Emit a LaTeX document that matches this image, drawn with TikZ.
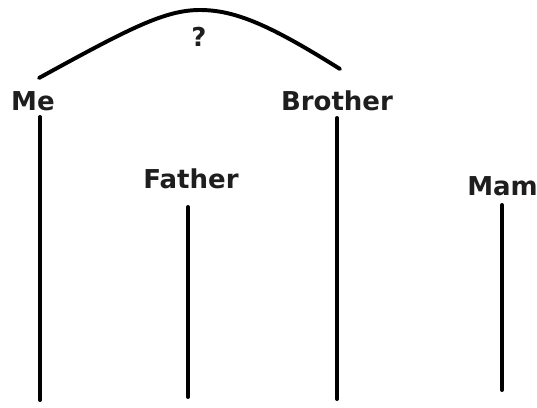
\documentclass[tikz,border=0pt]{standalone}
\usepackage{fontspec}
\setmainfont{DejaVu Sans}
\usepackage{tikz}
\usetikzlibrary{positioning,calc}
\definecolor{kinink}{RGB}{30,30,30}

\begin{document}
\begin{tikzpicture}[
  every node/.style={font=\fontsize{18.5}{20}\selectfont\bfseries, text=kinink, inner sep=0pt},
  lbl/.style={anchor=base},
  kin/.style={draw=black, line width=2.8pt, line cap=round}
]
  \useasboundingbox (0,0) rectangle (13.425,10.175);
  % people
  \node[lbl] (me) at (0.825,7.425) {Me};
  \node[lbl] (brother) at (8.425,7.425) {Brother};
  \node[lbl] (father) at (4.775,5.475) {Father};
  \node[lbl, anchor=base west] (mam) at (11.675,5.3) {Mam};
  \node (q) at (4.975,9.25) {?};
  % ends of the lines
  \coordinate (meBot) at (1.0,0.175);
  \coordinate (fatherBot) at (4.7,0.25);
  \coordinate (brotherBot) at (8.425,0.2);
  \coordinate (mamBot) at (12.55,0.425);
  \coordinate (arcL) at (0.975,8.225);
  \coordinate (arcR) at (8.5,8.45);
  \draw[kin] (meBot |- 0,7.25) -- (meBot);
  \draw[kin] (fatherBot |- 0,5.0) -- (fatherBot);
  \draw[kin] (brotherBot |- 0,7.225) -- (brotherBot);
  \draw[kin] (mamBot |- 0,5.05) -- (mamBot);
  % the arc over the two of us
  \draw[kin] (arcL) .. controls (3.25,9.475) and (4.125,9.925) .. (5.0,9.925)
    .. controls (5.875,9.925) and (6.75,9.55) .. (arcR);
\end{tikzpicture}
\end{document}
